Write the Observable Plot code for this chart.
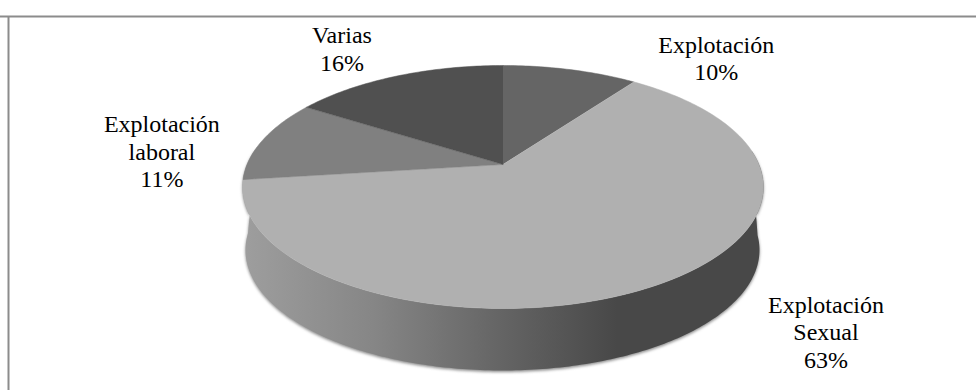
<!DOCTYPE html>
<html lang="es">
<head>
<meta charset="utf-8">
<title>Tipos de explotación</title>
<script src="https://cdn.jsdelivr.net/npm/d3@7"></script>
<script src="https://cdn.jsdelivr.net/npm/@observablehq/plot@0.6"></script>
<style>
  html, body { margin: 0; padding: 0; background: #fff; }
  svg { display: block; }
</style>
</head>
<body>
<div id="chart"></div>
<script>
// Shares of each type, clockwise from twelve o'clock
const categories = ["Explotación", "Explotación Sexual", "Explotación laboral", "Varias"];
const shares = [10, 63, 11, 16];
const labelLines = ["Explotación", "Explotación\nSexual", "Explotación\nlaboral", "Varias"];

// Slice fills
const sliceColors = ["#656565", "#b0b0b0", "#808080", "#505050"];

// Perspective of the tilted disc, in plot units
const view = {cx: 502.5, apexY: 164, farY: 65, nearY: 308, halfWidth: 260.5};
const rimDrop = {cx: 502, cy: 249.5, rx: 257, ry: 120.5};

const tilt = (2 * view.apexY - view.farY - view.nearY) / (view.farY - view.nearY);
const slope = view.farY * (1 + tilt) - view.apexY;
const spread = view.halfWidth * Math.sqrt(1 - tilt * tilt);

// A point on the disc: angle clockwise from the far side, r from 0 (apex) to 1 (rim)
function project(angle, r = 1) {
  const depth = r * Math.cos(angle);
  const across = r * Math.sin(angle);
  const w = 1 + tilt * depth;
  return {x: view.cx + spread * across / w, y: (view.apexY + slope * depth) / w};
}

const arcs = d3.pie().sort(null).startAngle(0).endAngle(2 * Math.PI)(shares);
const degree = Math.PI / 180;

const discTop = arcs.flatMap((a, i) => {
  const n = Math.max(2, Math.ceil((a.endAngle - a.startAngle) / degree));
  const rim = d3.range(n + 1).map(k => project(a.startAngle + (a.endAngle - a.startAngle) * k / n));
  return [project(0, 0), ...rim].map(p => ({...p, name: categories[i]}));
});

// Visible wall: front half of the top rim, back along the lower rim
const wallAngles = d3.range(83, 279);
const wall = [
  ...wallAngles.map(d => project(d * degree)),
  ...wallAngles.slice().reverse().map(d => ({
    x: rimDrop.cx + rimDrop.rx * Math.sin(d * degree),
    y: rimDrop.cy - rimDrop.ry * Math.cos(d * degree)
  }))
];

// Label anchors, placed relative to each slice's rim midpoint
const labelShift = [[146, -12], [168, 47], [-101, 11], [-55, -28]];
const labels = arcs.map((a, i) => {
  const p = project((a.startAngle + a.endAngle) / 2);
  return {x: p.x + labelShift[i][0], y: p.y + labelShift[i][1], text: `${labelLines[i]}\n${shares[i]}%`};
});

const wallGradient = () => {
  const g = d3.create("svg:defs");
  const grad = g.append("linearGradient").attr("id", "wall-shade");
  [[0, "#9e9e9e"], [0.25, "#868686"], [0.5, "#646464"], [0.72, "#484848"], [1, "#484848"]]
    .forEach(([o, c]) => grad.append("stop").attr("offset", o).attr("stop-color", c));
  return g.node();
};

const chart = Plot.plot({
  width: 976,
  height: 390,
  margin: 0,
  style: {background: "#fff"},
  x: {domain: [0, 976], range: [0, 976], axis: null},
  y: {domain: [0, 390], range: [0, 390], axis: null},
  color: {type: "ordinal", domain: categories, range: sliceColors},
  marks: [
    wallGradient,
    Plot.ruleY([16], {stroke: "#8c8c8c", strokeWidth: 2}),
    Plot.ruleX([8], {y1: 16, y2: 390, stroke: "#8c8c8c", strokeWidth: 2}),
    Plot.line(wall, {x: "x", y: "y", fill: "#888", stroke: "none", dy: 1.5, imageFilter: "blur(1.5px)"}),
    Plot.line(wall, {x: "x", y: "y", fill: "url(#wall-shade)", stroke: "none"}),
    Plot.line(discTop, {x: "x", y: "y", z: "name", fill: "name", stroke: "name", strokeWidth: 0.5}),
    Plot.text(labels, {
      x: "x", y: "y", text: "text",
      fontFamily: "Liberation Serif", fontSize: 24, lineHeight: 1.15,
      fill: "#000", textAnchor: "middle", lineAnchor: "middle"
    })
  ]
});

document.getElementById("chart").append(chart);
</script>
</body>
</html>
